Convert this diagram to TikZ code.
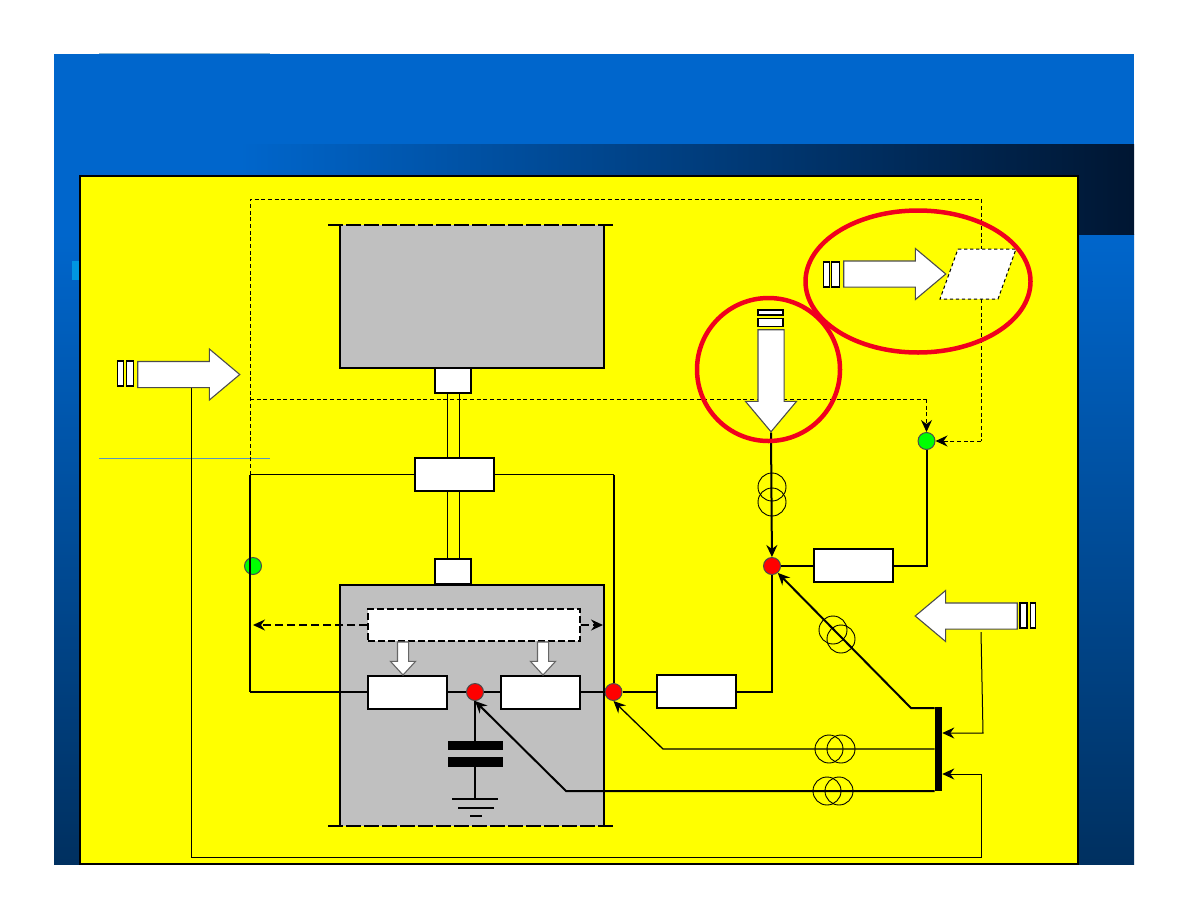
\documentclass[tikz,border=0pt]{standalone}
\usetikzlibrary{arrows.meta,shapes.arrows,shapes.geometric}
\definecolor{bluetop}{RGB}{0,102,204}
\definecolor{bluebot}{RGB}{0,48,96}
\definecolor{navy}{RGB}{0,22,50}
\definecolor{grayfill}{RGB}{192,192,192}
\definecolor{redring}{RGB}{240,0,30}
\definecolor{tile}{RGB}{0,150,225}
\definecolor{rulecol}{RGB}{90,150,190}
\definecolor{panelyellow}{RGB}{255,255,0}
\definecolor{dotred}{RGB}{255,0,0}
\definecolor{dotgreen}{RGB}{0,255,0}
\tikzset{
  x=0.75pt,y=-0.75pt,
  px/.style={line width=#1*0.75pt},
  wire/.style={draw=black,px=2},
  thinwire/.style={draw=black,px=1},
  tipa/.style={-{Stealth[length=12*0.75pt,width=11*0.75pt,inset=4*0.75pt]}},
  whitebox/.style={draw=black,fill=white,px=2,rectangle,minimum width=79*0.75pt,minimum height=33*0.75pt,inner sep=0pt},
  stub/.style={draw=black,fill=white,px=1.2,rectangle,minimum width=36*0.75pt,minimum height=25*0.75pt,inner sep=0pt},
  dotr/.style={circle,draw=black!70,fill=dotred,px=1,minimum size=17*0.75pt,inner sep=0pt},
  dotg/.style={circle,draw=black!70,fill=dotgreen,px=1,minimum size=17*0.75pt,inner sep=0pt},
  coil/.style={circle,draw=black,px=0.9,minimum size=28*0.75pt,inner sep=0pt},
  barbox/.style={draw=black,fill=white,px=1.2,rectangle,inner sep=0pt},
  bigarrow/.style={single arrow,draw=black!70,fill=white,px=1.1,minimum height=102*0.75pt,
     single arrow head extend=12.5*0.75pt,single arrow tip angle=80,inner xsep=0pt,inner ysep=12.5*0.75pt},
  smallarrow/.style={single arrow,draw=black!60,fill=white,px=1.1,minimum height=33*0.75pt,
     single arrow head extend=7*0.75pt,single arrow tip angle=85,inner xsep=0pt,inner ysep=5*0.75pt},
  ringmark/.style={draw=redring,px=4.5,ellipse,inner sep=0pt},
}
\begin{document}
\begin{tikzpicture}
\useasboundingbox (0,0) rectangle (1188,918);
\fill[white] (0,0) rectangle (1188,918);
% backdrop
\fill[bluetop] (54,54) rectangle (1134,235);
\shade[top color=bluetop,bottom color=bluebot] (54,234) rectangle (1134,864);
\shade[left color=bluetop,right color=navy] (240,144) rectangle (1134,234);
\fill[tile] (72,261) rectangle (80,280);
\draw[rulecol!70!white,px=1] (99,53) -- (270,53);
% panel
\fill[panelyellow] (80,176) rectangle (1078,864);
\draw[black,px=2] (80,176) rectangle (1078,864);
\draw[rulecol,px=1] (99,458) -- (270,458);
% grey blocks
\fill[grayfill] (340,225) rectangle (604,368);
\draw[black,px=2] (340,225) -- (340,368) -- (604,368) -- (604,225);
\draw[black,px=1.5,dash pattern=on 11pt off 2.5pt] (328,225) -- (616,225);
\fill[grayfill] (340,585) rectangle (604,826);
\draw[black,px=2] (340,826) -- (340,585) -- (604,585) -- (604,826);
\draw[black,px=1.5,dash pattern=on 11pt off 2.5pt] (328,826) -- (616,826);
% nodes
\node[dotg] (g1) at (253,566) {};
\node[dotg] (g2) at (926.5,441) {};
\node[dotr] (r1) at (475,692) {};
\node[dotr] (r2) at (613.5,692) {};
\node[dotr] (r3) at (772,566) {};
\node[stub] (s1) at (453,380.5) {};
\node[stub] (s2) at (453,571.5) {};
\node[whitebox,px=2.5] (cpl) at (454.5,474.5) {};
\node[whitebox] (b1) at (407,692) {};
\node[whitebox] (b2) at (540.5,692) {};
\node[whitebox] (b3) at (696.5,691.5) {};
\node[whitebox] (b4) at (853.5,565.5) {};
\node[draw=black,fill=white,px=1.8,dash pattern=on 5pt off 2.5pt,rectangle,minimum width=212*0.75pt,minimum height=32*0.75pt,inner sep=0pt] (ctl) at (474,625) {};
\node[fill=black,rectangle,minimum width=7*0.75pt,minimum height=84*0.75pt,inner sep=0pt] (bus) at (938.5,749) {};
% free points
\coordinate (tl) at (250,199);
\coordinate (tr) at (981,199);
\coordinate (ml) at (250,399);
\coordinate (mr) at (926.5,399);
\coordinate (cl) at (250,474.5);
\coordinate (cr) at (613.5,474.5);
\coordinate (gr) at (981,441);
\coordinate (lowl) at (250,692);
\coordinate (b3r) at (772,692);
\coordinate (b4r) at (926.5,566);
\coordinate (k1) at (566,791);
\coordinate (k2) at (663,749);
\coordinate (k3) at (911,708);
\coordinate (ra) at (981,632);
\coordinate (rb) at (983,733);
\coordinate (la) at (191,387);
\coordinate (lb) at (191,857);
\coordinate (lc) at (981,857);
\coordinate (ld) at (981,774);
\coordinate (dl) at (253,625);
\coordinate (dr) at (603,625);
\coordinate (cap1) at (475,741);
\coordinate (cap2) at (475,767);
\coordinate (gnd) at (475,799);
% dashed control rect
\draw[black,px=1,dash pattern=on 3pt off 2pt] (cl) -- (tl) -- (tr) -- (gr);
\draw[black,px=1,dash pattern=on 3pt off 2pt] (ml) -- (mr);
\draw[black,px=1,dash pattern=on 3pt off 2pt,tipa] (mr) -- (g2);
\draw[black,px=1,dash pattern=on 3pt off 2pt,tipa] (gr) -- (g2);
% connectors
\draw[thinwire] (447,393) -- (447,458);
\draw[thinwire] (459,393) -- (459,458);
\draw[thinwire] (447,491) -- (447,559);
\draw[thinwire] (459,491) -- (459,559);
\draw[thinwire] (cl) -- (cpl.west);
\draw[thinwire,px=1.5] (cpl.east) -- (cr);
\draw[wire] (cr) -- (r2);
\draw[wire] (cl) -- (lowl);
\draw[wire,px=1.5] (lowl) -- (b1.west);
\draw[wire,px=1.5] (b1.east) -- (r1);
\draw[wire,px=1.5] (r1) -- (b2.west);
\draw[wire,px=1.5] (b2.east) -- (r2);
\draw[wire,px=1.5] (r2) -- (b3.west |- r2);
\draw[wire] (b3.east |- r2) -- (b3r) -- (r3);
\draw[wire] (r3) -- (b4.west |- r3);
\draw[wire] (b4.east |- r3) -- (b4r) -- (g2);
\draw[black,px=1.6,dash pattern=on 6pt off 3pt,tipa] (ctl.west) -- (dl);
\draw[black,px=1.6,dash pattern=on 6pt off 3pt,tipa] (ctl.east) -- (dr);
\draw[wire,px=1.5] (r1) -- (cap1);
\draw[wire,px=1.5] (cap2) -- (gnd);
\fill[black] (448,741) rectangle (503,750);
\fill[black] (448,757) rectangle (503,767);
\draw[black,px=1.5] (452,799) -- (498,799);
\draw[black,px=1.5] (458,808) -- (494,808);
\draw[black,px=1.5] (470,816) -- (482,816);
\draw[wire,tipa] (bus.west |- k1) -- (k1) -- (r1.south);
\draw[thinwire,px=1.3,tipa] (bus.west |- k2) -- (k2) -- (r2.south);
\draw[wire,tipa] (bus.west |- k3) -- (k3) -- (r3.-50);
\draw[thinwire,tipa] (ra) -- (rb) -- (bus.east |- rb);
\draw[thinwire,tipa] (la) -- (lb) -- (lc) -- (ld) -- (bus.east |- ld);
% coils
\node[coil] (t1a) at (772,487) {};
\node[coil] (t1b) at (772,502) {};
\node[coil] (t2a) at (833,630) {};
\node[coil] (t2b) at (841,639) {};
\node[coil] (t3a) at (829,749) {};
\node[coil] (t3b) at (841,749) {};
\node[coil] (t4a) at (827,791) {};
\node[coil] (t4b) at (839,791) {};
% small arrows
\node[smallarrow,rotate=-90] (sa1) at (403,655.5) {};
\node[smallarrow,rotate=-90] (sa2) at (543,655.5) {};
% big arrows and bars
\node[bigarrow] (ain) at (181,374.5) {};
\node[barbox,minimum width=5.5*0.75pt,minimum height=25*0.75pt] (ai1) at (120.5,373.5) {};
\node[barbox,minimum width=7*0.75pt,minimum height=25*0.75pt] (ai2) at (130,373.5) {};
\node[bigarrow,rotate=180] (arr) at (974,616) {};
\node[barbox,minimum width=7*0.75pt,minimum height=25*0.75pt] (ar1) at (1023.5,615.5) {};
\node[barbox,minimum width=5.5*0.75pt,minimum height=25*0.75pt] (ar2) at (1033,615.5) {};
\node[bigarrow] (aup) at (887,274) {};
\node[barbox,minimum width=5.5*0.75pt,minimum height=25*0.75pt] (au1) at (826.5,274.5) {};
\node[barbox,minimum width=8*0.75pt,minimum height=25*0.75pt] (au2) at (835.5,274.5) {};
\node[bigarrow,rotate=-90] (adn) at (771,373) {};
\node[barbox,minimum width=25*0.75pt,minimum height=5*0.75pt] (ad1) at (770.5,312.5) {};
\node[barbox,minimum width=25*0.75pt,minimum height=8*0.75pt] (ad2) at (770.5,322.5) {};
\draw[wire,tipa] (adn.tip) -- (r3);
\draw[draw=black,fill=white,px=1,dash pattern=on 2.5pt off 2pt] (958,249) -- (1016,249) -- (998,299) -- (940,299) -- cycle;
% rings
\node[ringmark,minimum width=225*0.75pt,minimum height=142*0.75pt] (ring1) at (918,281.5) {};
\node[ringmark,circle,minimum size=143*0.75pt] (ring2) at (768.5,369.5) {};
\end{tikzpicture}
\end{document}
